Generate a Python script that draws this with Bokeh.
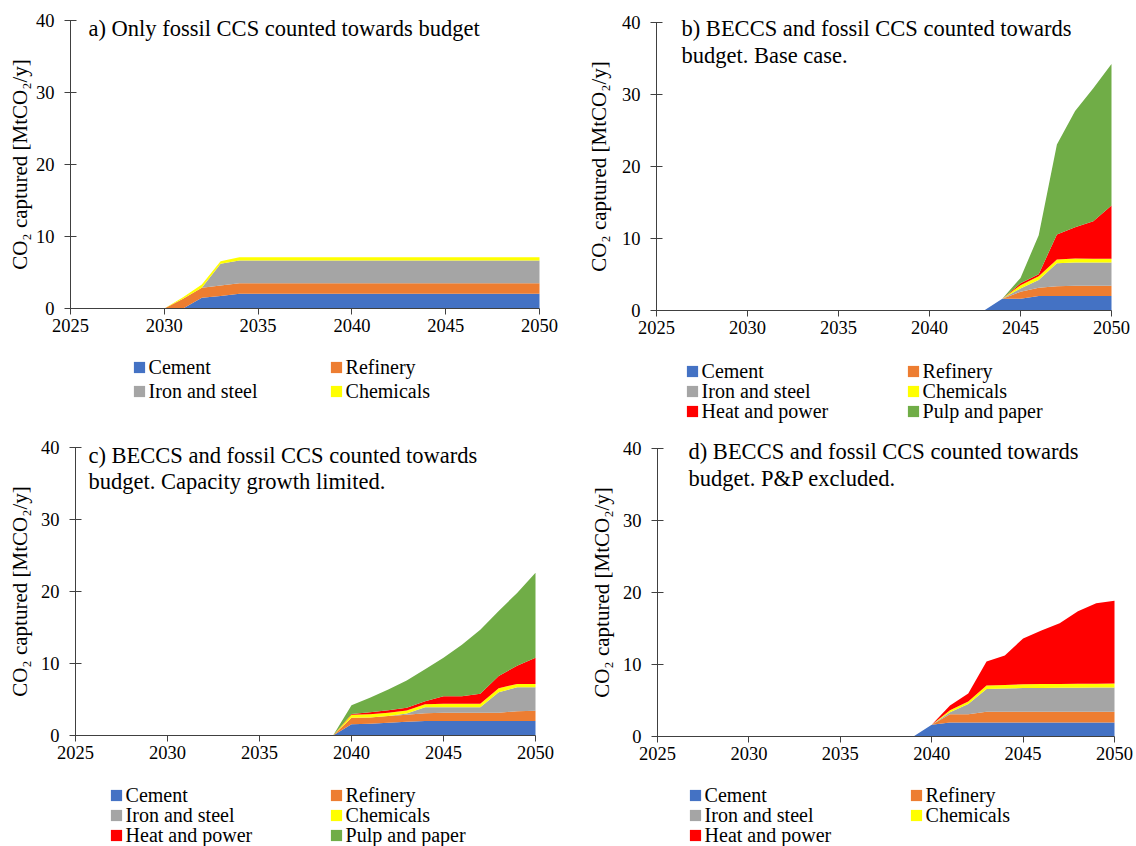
import math
from bokeh.plotting import figure
from bokeh.models import ColumnDataSource, Range1d, FixedTicker, Legend, LegendItem, Label
from bokeh.layouts import column, row
from bokeh.embed import file_html
from bokeh.resources import INLINE

FONT = "Liberation Serif"

years = [2025, 2026, 2027, 2028, 2029, 2030, 2031, 2032, 2033, 2034, 2035, 2036, 2037,
         2038, 2039, 2040, 2041, 2042, 2043, 2044, 2045, 2046, 2047, 2048, 2049, 2050]
x_ticks = [2025, 2030, 2035, 2040, 2045, 2050]
y_ticks = [0, 10, 20, 30, 40]

sector_labels = ["Cement", "Refinery", "Iron and steel", "Chemicals", "Heat and power", "Pulp and paper"]
sector_colors = ["#4472C4", "#ED7D31", "#A5A5A5", "#FFFF00", "#FF0000", "#70AD47"]

# a) Only fossil CCS counted towards budget
a_cement = [0, 0, 0, 0, 0, 0, 0, 1.50, 1.75, 2.04, 2.04, 2.04, 2.04,
            2.04, 2.04, 2.04, 2.04, 2.04, 2.04, 2.04, 2.04, 2.04, 2.04, 2.04, 2.04, 2.04]
a_refinery = [0, 0, 0, 0, 0, 0, 1.35, 1.38, 1.45, 1.48, 1.48, 1.48, 1.48,
              1.48, 1.48, 1.48, 1.48, 1.48, 1.48, 1.48, 1.48, 1.48, 1.48, 1.48, 1.48, 1.48]
a_iron = [0, 0, 0, 0, 0, 0, 0, 0, 3.00, 3.15, 3.15, 3.15, 3.15,
          3.15, 3.15, 3.15, 3.15, 3.15, 3.15, 3.15, 3.15, 3.15, 3.15, 3.15, 3.15, 3.15]
a_chem = [0, 0, 0, 0, 0, 0, 0.22, 0.45, 0.37, 0.45, 0.45, 0.45, 0.45,
          0.45, 0.45, 0.45, 0.45, 0.45, 0.45, 0.45, 0.45, 0.45, 0.45, 0.45, 0.45, 0.45]

# b) BECCS and fossil CCS counted towards budget. Base case.
b_cement = [0, 0, 0, 0, 0, 0, 0, 0, 0, 0, 0, 0, 0,
            0, 0, 0, 0, 0, 0, 1.62, 1.62, 2.0, 2.0, 2.0, 2.0, 2.0]
b_refinery = [0, 0, 0, 0, 0, 0, 0, 0, 0, 0, 0, 0, 0,
              0, 0, 0, 0, 0, 0, 0, 1.0, 1.15, 1.38, 1.43, 1.43, 1.43]
b_iron = [0, 0, 0, 0, 0, 0, 0, 0, 0, 0, 0, 0, 0,
          0, 0, 0, 0, 0, 0, 0, 0.45, 1.1, 3.19, 3.24, 3.24, 3.24]
b_chem = [0, 0, 0, 0, 0, 0, 0, 0, 0, 0, 0, 0, 0,
          0, 0, 0, 0, 0, 0, 0, 0.45, 0.5, 0.51, 0.55, 0.53, 0.53]
b_heat = [0, 0, 0, 0, 0, 0, 0, 0, 0, 0, 0, 0, 0,
          0, 0, 0, 0, 0, 0, 0, 0.25, 0.3, 3.47, 4.35, 5.18, 7.38]
b_pulp = [0, 0, 0, 0, 0, 0, 0, 0, 0, 0, 0, 0, 0,
          0, 0, 0, 0, 0, 0, 0, 0.75, 5.4, 12.5, 16.13, 18.5, 19.66]

# c) BECCS and fossil CCS counted towards budget. Capacity growth limited.
c_cement = [0, 0, 0, 0, 0, 0, 0, 0, 0, 0, 0, 0, 0,
            0, 0, 1.57, 1.62, 1.76, 1.9, 2.0, 2.0, 2.0, 2.0, 2.0, 2.0, 2.0]
c_refinery = [0, 0, 0, 0, 0, 0, 0, 0, 0, 0, 0, 0, 0,
              0, 0, 0.88, 0.88, 0.94, 0.97, 1.1, 1.15, 1.15, 1.15, 1.15, 1.38, 1.43]
c_iron = [0, 0, 0, 0, 0, 0, 0, 0, 0, 0, 0, 0, 0,
          0, 0, 0, 0, 0, 0.2, 0.84, 0.79, 0.79, 0.79, 2.85, 3.32, 3.27]
c_chem = [0, 0, 0, 0, 0, 0, 0, 0, 0, 0, 0, 0, 0,
          0, 0, 0.42, 0.46, 0.45, 0.4, 0.4, 0.46, 0.46, 0.46, 0.57, 0.47, 0.47]
c_heat = [0, 0, 0, 0, 0, 0, 0, 0, 0, 0, 0, 0, 0,
          0, 0, 0.13, 0.28, 0.35, 0.37, 0.43, 1.06, 1.06, 1.4, 1.68, 2.53, 3.63]
c_pulp = [0, 0, 0, 0, 0, 0, 0, 0, 0, 0, 0, 0, 0,
          0, 0, 1.2, 1.99, 2.9, 3.8, 4.43, 5.34, 7.14, 8.9, 9.05, 10.1, 11.8]

# d) BECCS and fossil CCS counted towards budget. P&P excluded.
d_cement = [0, 0, 0, 0, 0, 0, 0, 0, 0, 0, 0, 0, 0,
            0, 0, 1.62, 1.95, 1.95, 1.95, 1.95, 1.95, 1.95, 1.95, 1.95, 1.95, 1.95]
d_refinery = [0, 0, 0, 0, 0, 0, 0, 0, 0, 0, 0, 0, 0,
              0, 0, 0, 1.15, 1.15, 1.48, 1.48, 1.48, 1.48, 1.48, 1.48, 1.48, 1.48]
d_iron = [0, 0, 0, 0, 0, 0, 0, 0, 0, 0, 0, 0, 0,
          0, 0, 0, 0.28, 1.4, 3.17, 3.25, 3.3, 3.32, 3.33, 3.35, 3.36, 3.37]
d_chem = [0, 0, 0, 0, 0, 0, 0, 0, 0, 0, 0, 0, 0,
          0, 0, 0, 0.28, 0.36, 0.48, 0.49, 0.52, 0.53, 0.54, 0.54, 0.55, 0.56]
d_heat = [0, 0, 0, 0, 0, 0, 0, 0, 0, 0, 0, 0, 0,
          0, 0, 0, 0.64, 1.11, 3.32, 4.08, 6.36, 7.43, 8.42, 10.06, 11.15, 11.48]

titles = {
    "a": ["a) Only fossil CCS counted towards budget"],
    "b": ["b) BECCS and fossil CCS counted towards", "budget. Base case."],
    "c": ["c) BECCS and fossil CCS counted towards", "budget. Capacity growth limited."],
    "d": ["d) BECCS and fossil CCS counted towards", "budget. P&P excluded."],
}
y_title = "CO\u2082 captured [MtCO\u2082/y]"

AXIS_COLOR = "#404040"
TOTAL_W, TOTAL_H = 1136, 846
LEFT_W = 580
TOP_H = 430


def make_panel(series, title_lines, box, axes_px, title_px, title_dy, ylabel_x,
               legend_x, legend_rows, col_pitch):
    """box: figure (x0, y0, w, h) in page pixels.
    axes_px: pixel positions of (x=2025, x=2050, y=0, y=40)."""
    fx0, fy0, fw, fh = box
    x25, x50, y0px, y40px = axes_px
    pxyr = (x50 - x25) / 25.0
    pxu = (y0px - y40px) / 40.0

    def dx(px):
        return 2025 + (px - x25) / pxyr

    def dy(py):
        return (y0px - py) / pxu

    data = {"year": years}
    names = []
    for i, s in enumerate(series):
        key = "s%d" % i
        data[key] = s
        names.append(key)
    src = ColumnDataSource(data)
    p = figure(width=fw, height=fh, output_backend="svg", toolbar_location=None,
               x_range=Range1d(dx(fx0), dx(fx0 + fw)),
               y_range=Range1d(dy(fy0 + fh), dy(fy0)),
               min_border=0, min_border_left=0, min_border_right=0,
               min_border_top=0, min_border_bottom=0,
               background_fill_color="white", border_fill_color="white")
    p.outline_line_color = None
    p.xgrid.visible = False
    p.ygrid.visible = False
    n = len(series)
    rends = p.varea_stack(stackers=names, x="year", color=sector_colors[:n], source=src)

    p.xaxis.ticker = FixedTicker(ticks=x_ticks)
    p.yaxis.ticker = FixedTicker(ticks=y_ticks)
    p.xaxis.bounds = (2025, 2050)
    p.yaxis.bounds = (0, 40)
    p.xaxis.fixed_location = 0
    p.yaxis.fixed_location = 2025
    for ax in (p.xaxis[0], p.yaxis[0]):
        ax.axis_line_color = AXIS_COLOR
        ax.major_tick_line_color = AXIS_COLOR
        ax.minor_tick_line_color = None
        ax.major_label_text_font = FONT
        ax.major_label_text_font_size = "18.5px"
        ax.major_label_text_color = "black"
    p.xaxis.major_tick_in = 0
    p.xaxis.major_tick_out = 6
    p.xaxis.major_label_standoff = 4
    p.yaxis.major_tick_in = 6
    p.yaxis.major_tick_out = 6
    p.yaxis.major_label_standoff = 10

    # y axis title, centred on the 0-40 span
    p.add_layout(Label(x=dx(ylabel_x), y=20, text=y_title, angle=math.pi / 2,
                       text_font=FONT, text_font_size="21px", text_align="center",
                       text_baseline="middle", text_color="black"))

    tx, ty = title_px
    for k, line in enumerate(title_lines):
        p.add_layout(Label(x=dx(tx), y=dy(ty + k * title_dy), text=line, text_font=FONT,
                           text_font_size="22.5px", text_baseline="middle",
                           text_color="black"))

    items = [LegendItem(label=sector_labels[i], renderers=[rends[i]]) for i in range(n)]
    for r, yc in enumerate(legend_rows):
        row_items = items[2 * r:2 * r + 2]
        if not row_items:
            continue
        legend = Legend(items=row_items, orientation="horizontal",
                        location=(legend_x - 1.4 - fx0, fy0 + fh - (yc + 11.5)),
                        label_text_font=FONT, label_text_font_size="20px",
                        label_text_color="black",
                        glyph_width=14, glyph_height=14, label_standoff=3,
                        label_width=col_pitch - 17, label_height=20,
                        spacing=0, padding=0, margin=0,
                        border_line_color=None, background_fill_alpha=0)
        p.add_layout(legend)
    return p


RIGHT_W = TOTAL_W - LEFT_W
BOT_H = TOTAL_H - TOP_H

pa = make_panel([a_cement, a_refinery, a_iron, a_chem], titles["a"],
                (0, 0, LEFT_W, TOP_H), (70, 539, 308, 20),
                (88, 28), 27, 19, 133, [367, 391], 197)
pb = make_panel([b_cement, b_refinery, b_iron, b_chem, b_heat, b_pulp], titles["b"],
                (LEFT_W, 0, RIGHT_W, TOP_H), (656, 1111, 310, 22),
                (681, 28), 27, 598, 686, [371, 391, 411], 221)
pc = make_panel([c_cement, c_refinery, c_iron, c_chem, c_heat, c_pulp], titles["c"],
                (0, TOP_H, LEFT_W, BOT_H), (75, 535, 735, 447),
                (88, 455), 26, 19, 110, [795, 815, 835], 220)
pd = make_panel([d_cement, d_refinery, d_iron, d_chem, d_heat], titles["d"],
                (LEFT_W, TOP_H, RIGHT_W, BOT_H), (657, 1114, 736, 448),
                (688, 451), 27, 601, 689, [795, 815, 835], 221)

layout = column(row(pa, pb), row(pc, pd))
open("out.html", "w").write(file_html(layout, INLINE))
